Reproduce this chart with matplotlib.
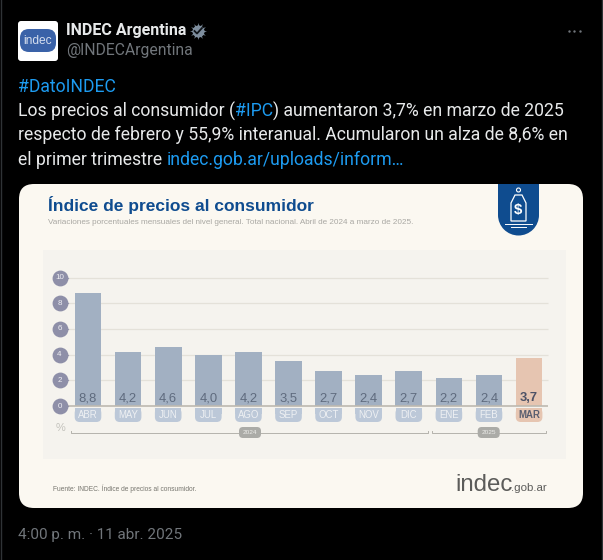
import matplotlib
matplotlib.use("Agg")
import matplotlib.pyplot as plt
from matplotlib.patches import FancyBboxPatch, Polygon, Circle, Rectangle

months = ["ABR", "MAY", "JUN", "JUL", "AGO", "SEP", "OCT", "NOV", "DIC", "ENE", "FEB", "MAR"]
values = [8.8, 4.2, 4.6, 4.0, 4.2, 3.5, 2.7, 2.4, 2.7, 2.2, 2.4, 3.7]
value_labels = ["8,8", "4,2", "4,6", "4,0", "4,2", "3,5", "2,7", "2,4", "2,7", "2,2", "2,4", "3,7"]
y_ticks = [0, 2, 4, 6, 8, 10]

title = "Índice de precios al consumidor"
subtitle = "Variaciones porcentuales mensuales del nivel general. Total nacional. Abril de 2024 a marzo de 2025."
source = "Fuente: INDEC. Índice de precios al consumidor."

W, H = 603, 560
# geometria del panel en pixeles
X0, PITCH = 88.0, 40.1
BASE_Y, PX_PER_UNIT = 406.0, 12.85
PANEL = (43, 250, 566, 459)

BLUE = "#0F4C8F"
LINK = "#1D9BF0"
TXT = "#E7E9EA"
MUTED = "#71767B"
CARD = "#FBF8F1"
PANEL_BG = "#F5F3EE"
BAR = "#A2B0C2"
BAR_HI = "#E6C5B1"
PILL = "#BCC8D8"
BUBBLE = "#8E8FA8"
GRID = "#E4E1D9"
BASELINE = "#BDB9B0"
FONT = "Roboto"
CARD_FONT = "Liberation Sans"
BODY = 17.65


def px(size):
    return size * 0.72


def bar_x(i):
    return X0 + i * PITCH


fig = plt.figure(figsize=(W / 100, H / 100), dpi=100, facecolor="black")
bg = fig.add_axes([0, 0, 1, 1])
bg.set_xlim(0, W)
bg.set_ylim(H, 0)
bg.axis("off")

bg.add_patch(Rectangle((0.5, -2), W - 1.5, H + 4, fc="none", ec="#2F3336", lw=1))


def label(x, y, s, size, color=TXT, weight="normal", family=FONT, ha="left", **kw):
    return bg.text(x, y, s, fontsize=px(size), color=color, fontweight=weight,
                   family=family, ha=ha, va="center", **kw)


# --- cabecera del tweet ---
bg.add_patch(FancyBboxPatch((20, 23), 36, 36, boxstyle="round,pad=2,rounding_size=3", fc="white", ec="none"))
bg.add_patch(FancyBboxPatch((29, 38), 18, 5, boxstyle="round,pad=9,rounding_size=9", fc="#3A62A8", ec="none"))
label(38, 41, "indec", 12, color="#D5DEEE", ha="center", family="Liberation Sans")
label(66, 31, "INDEC Argentina", 16, weight="bold")
bg.scatter([198], [31], s=75, marker="o", color="#7E8E9E", zorder=3, linewidths=0)
bg.scatter([198], [31], s=150, marker=(12, 1, 0), color="#7E8E9E", zorder=3, linewidths=0)
bg.plot([194.5, 197, 202], [31, 33.5, 28], color="#10151A", lw=1.3, zorder=4)
label(66, 51, "@INDECArgentina", 15.7, color=MUTED)
bg.scatter([568.5, 574, 579.5], [31, 31, 31], s=3, color=MUTED, linewidths=0)

label(18, 87, "#DatoINDEC", BODY, color=LINK)
t1 = label(18, 111, "Los precios al consumidor (", BODY)
t2 = bg.annotate("#IPC", xy=(1, 0.5), xycoords=t1, va="center", fontsize=px(BODY), color=LINK, family=FONT)
t3 = bg.annotate(") aumentaron 3,7% en marzo de 2025", xy=(1, 0.5), xycoords=t2, va="center",
                 fontsize=px(BODY), color=TXT, family=FONT)
label(18, 135, "respecto de febrero y 55,9% interanual. Acumularon un alza de 8,6% en", BODY)
t4 = label(18, 160, "el primer trimestre ", BODY)
bg.annotate("indec.gob.ar/uploads/inform…", xy=(1, 0.5), xycoords=t4, va="center",
            fontsize=px(BODY), color=LINK, family=FONT)
label(18, 535, "4:00 p. m. · 11 abr. 2025", 15.2, color=MUTED)

# --- tarjeta ---
bg.add_patch(FancyBboxPatch((34, 199), 534, 294, boxstyle="round,pad=15,rounding_size=15", fc=CARD, ec="none"))
bg.add_patch(Rectangle(PANEL[:2], PANEL[2] - PANEL[0], PANEL[3] - PANEL[1], fc=PANEL_BG, ec="none"))

label(48.5, 205, title, 17.4, color=BLUE, weight="bold", family=CARD_FONT)
label(48.5, 222, subtitle, 8.2, color="#A9A8A3", family=CARD_FONT)

# escudo
bg.add_patch(Rectangle((498, 184), 41, 31, fc=BLUE, ec="none"))
bg.add_patch(Circle((518.5, 215), 20.5, fc=BLUE, ec="none"))
bg.add_patch(Polygon([(515, 195), (522, 195), (526, 203), (526, 221), (511, 221), (511, 203)],
                     closed=True, fc="none", ec="white", lw=0.9))
bg.add_patch(Circle((518.5, 190), 2, fc="none", ec="white", lw=0.8))
label(518.5, 210, "$", 15, color="white", weight="bold", family=CARD_FONT, ha="center")
bg.plot([505, 532], [223.5, 223.5], color="white", lw=0.7)
bg.plot([511, 526], [227, 227], color="white", lw=0.7)

# pastillas de meses
for i, m in enumerate(months):
    hi = i == len(months) - 1
    col = BAR_HI if hi else PILL
    x = bar_x(i)
    bg.add_patch(FancyBboxPatch((x - 13.3 + 5, 408 + 5), 26.6 - 10, 9 - 5, boxstyle="round,pad=5,rounding_size=5",
                                fc=col, ec="none"))
    bg.add_patch(Rectangle((x - 13.3, 407.5), 26.6, 6, fc=col, ec="none"))
    label(x, 414.5, m, 9.6, color="#5A5F70" if hi else "#EEF0F3", weight="bold" if hi else "normal",
          family=CARD_FONT, ha="center")

# llaves de anio
label(60, 428, "%", 11, color="#C3C2BC", family=CARD_FONT, ha="center")
for x0, x1, yr in [(71, 428, "2024"), (431.7, 545.7, "2025")]:
    bg.plot([x0, x0, x1, x1], [431, 432.5, 432.5, 431], color="#B5B3AC", lw=0.7)
xc = {"2024": 250, "2025": 488.7}
for yr, x in xc.items():
    bg.add_patch(FancyBboxPatch((x - 8, 430), 16, 5, boxstyle="round,pad=3,rounding_size=4", fc="#ABABA7", ec="none", zorder=3))
    label(x, 432.8, yr, 6.5, color="#EDEDEA", family=CARD_FONT, ha="center", zorder=4)

label(52.7, 489, source, 6.6, color="#77766F", family=CARD_FONT)
label(455, 485, "indec", 24, color="#5C5C5A", family=CARD_FONT)
label(511, 488, ".gob.ar", 11.5, color="#5C5C5A", family=CARD_FONT)

# --- grafico ---
left, top, right, bottom = PANEL
ax = fig.add_axes([left / W, 1 - bottom / H, (right - left) / W, (bottom - top) / H])
ax.patch.set_alpha(0)
ax.set_xlim((left - X0) / PITCH, (right - X0) / PITCH)
ax.set_ylim((BASE_Y - bottom) / PX_PER_UNIT, (BASE_Y - top) / PX_PER_UNIT)
ax.axis("off")

x_pos = list(range(len(months)))
grid_from, grid_to = (62 - X0) / PITCH, (548 - X0) / PITCH
ax.hlines(y_ticks[1:], grid_from, grid_to, color=GRID, lw=0.9, zorder=1)
colors = [BAR] * (len(months) - 1) + [BAR_HI]
ax.bar(x_pos, values, width=0.665, color=colors, zorder=2)
ax.hlines(0, grid_from, grid_to, color=BASELINE, lw=1.2, zorder=3)

for i, s in enumerate(value_labels):
    hi = i == len(value_labels) - 1
    ax.text(i, 0.62, s, ha="center", va="center", fontsize=px(13), family=CARD_FONT,
            color="#4D5266" if hi else "#5F6B7E", fontweight="bold" if hi else "normal", zorder=4)

bubble_x = (59.5 - X0) / PITCH
tip_x = (66 - X0) / PITCH
for t in y_ticks:
    ax.scatter([tip_x], [t], s=18, marker=">", color=BUBBLE, linewidths=0, zorder=4)
    ax.scatter([bubble_x], [t], s=130, marker="o", color=BUBBLE, linewidths=0, zorder=5)
    ax.text(bubble_x, t, str(t), ha="center", va="center", fontsize=px(8), color="#F0F0F4",
            family=CARD_FONT, zorder=6)

fig.savefig("out.png", dpi=100, facecolor=fig.get_facecolor())
